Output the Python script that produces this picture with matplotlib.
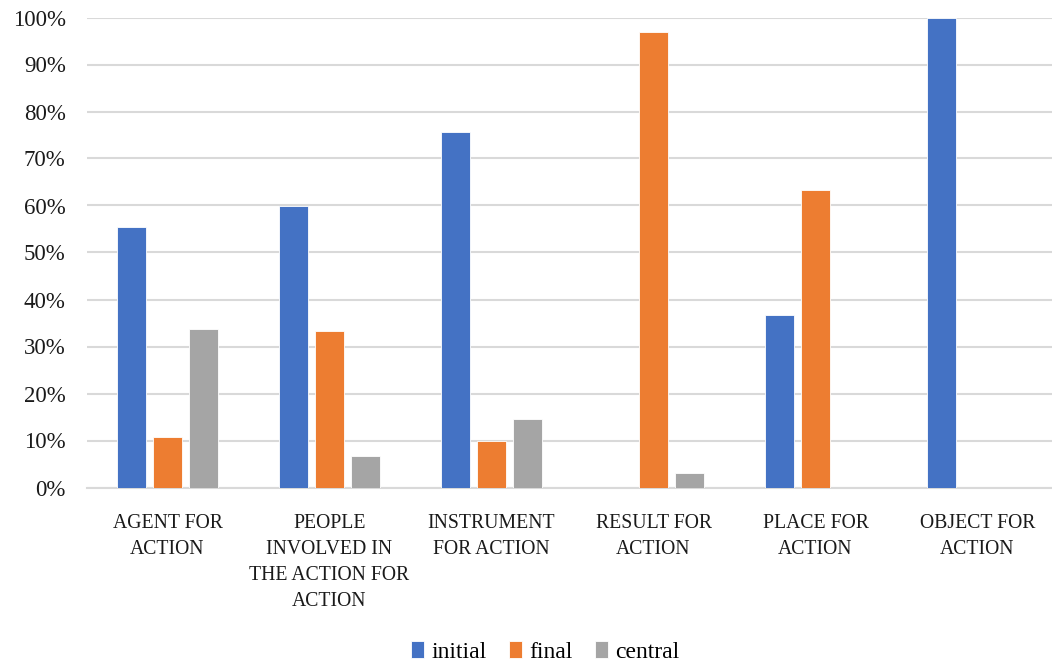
import matplotlib
matplotlib.use("Agg")
import matplotlib.pyplot as plt
import numpy as np
from matplotlib.ticker import FuncFormatter, MultipleLocator

categories = [
    "AGENT FOR\nACTION",
    "PEOPLE\nINVOLVED IN\nTHE ACTION FOR\nACTION",
    "INSTRUMENT\nFOR ACTION",
    "RESULT FOR\nACTION",
    "PLACE FOR\nACTION",
    "OBJECT FOR\nACTION",
]
series_names = ["initial", "final", "central"]
initial = [0.554, 0.600, 0.756, 0.0, 0.368, 1.0]
final = [0.108, 0.333, 0.098, 0.970, 0.632, 0.0]
central = [0.338, 0.067, 0.146, 0.030, 0.0, 0.0]
colors = ["#4472C4", "#ED7D31", "#A5A5A5"]

plt.rcParams["font.family"] = ["Liberation Serif", "DejaVu Serif"]

fig = plt.figure(figsize=(10.52, 6.64), dpi=100)
ax = fig.add_axes([86.5 / 1052, 1 - 487.5 / 664, 972 / 1052, 470 / 664])

x = np.arange(len(categories))
offset = 0.222
width = 0.179
for i, (vals, name, col) in enumerate(zip([initial, final, central], series_names, colors)):
    ax.bar(x + (i - 1) * offset, vals, width, color=col, label=name,
           edgecolor="white", linewidth=0.6, zorder=3)

ax.set_xlim(-0.5, len(categories) - 0.5)
ax.set_ylim(0, 1.0)
ax.yaxis.set_major_locator(MultipleLocator(0.1))
ax.yaxis.set_major_formatter(FuncFormatter(lambda v, p: f"{v * 100:.0f}%"))
ax.grid(axis="y", color="#D9D9D9", linewidth=1.5, zorder=0)
ax.set_axisbelow(True)
for s in ["top", "right", "left"]:
    ax.spines[s].set_visible(False)
ax.spines["bottom"].set_color("#D9D9D9")
ax.spines["bottom"].set_linewidth(1.5)
ax.tick_params(axis="y", length=0, pad=15, labelsize=16.5, labelcolor="#1a1a1a")
ax.tick_params(axis="x", length=0, pad=19, labelsize=14.2, labelcolor="#1a1a1a")
ax.set_xticks(x)
ax.set_xticklabels(categories, linespacing=1.5, va="top")

fig.legend(loc="center", bbox_to_anchor=(545 / 1052, 1 - 652 / 664), ncol=3,
           frameon=False, fontsize=17, handlelength=0.55, handleheight=0.75,
           handletextpad=0.3, columnspacing=0.95)

fig.savefig("out.png", dpi=100, facecolor="white")
